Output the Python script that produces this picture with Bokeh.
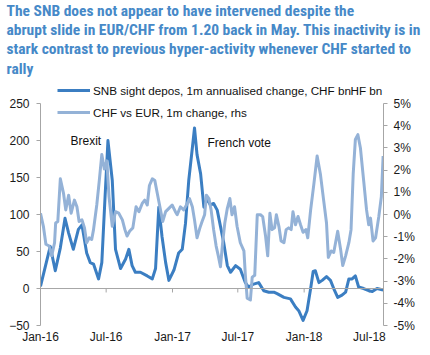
import pandas as pd
from bokeh.plotting import figure
from bokeh.models import (Range1d, LinearAxis, FixedTicker, DatetimeTickFormatter,
                          PrintfTickFormatter, Span, Label, Legend, LegendItem, Title)
from bokeh.embed import file_html
from bokeh.resources import INLINE

# ---------------- data ----------------
TITLE_LINES = [
    "The SNB does not appear to have intervened despite the",
    "abrupt slide in EUR/CHF from 1.20 back in May. This inactivity is in",
    "stark contrast to previous hyper-activity whenever CHF started to",
    "rally",
]
SERIES_SNB = "SNB sight depos, 1m annualised change, CHF bn"
SERIES_CHF = "CHF vs EUR, 1m change, rhs"
AXIS_NOTE = "HF bn"
EVENTS = ["Brexit", "French vote"]

SNB_DATES = [
    "2016-01-01", "2016-01-28", "2016-02-11", "2016-02-25", "2016-03-09", "2016-03-19",
    "2016-04-01", "2016-04-15", "2016-04-25", "2016-05-08", "2016-05-18", "2016-05-27",
    "2016-06-10", "2016-06-19", "2016-06-28", "2016-07-06", "2016-07-18", "2016-07-27",
    "2016-08-10", "2016-08-24", "2016-09-02", "2016-09-11", "2016-09-20", "2016-10-04",
    "2016-10-23", "2016-11-06", "2016-11-15", "2016-11-24", "2016-12-03", "2016-12-13",
    "2016-12-22",
    "2017-01-05", "2017-01-18", "2017-01-28", "2017-02-06", "2017-02-15", "2017-02-25",
    "2017-03-03", "2017-03-10", "2017-03-20", "2017-03-29", "2017-04-07", "2017-04-16",
    "2017-04-25", "2017-05-05", "2017-05-14", "2017-05-23", "2017-06-02", "2017-06-11",
    "2017-06-25", "2017-07-08", "2017-07-22", "2017-07-31", "2017-08-14", "2017-08-28",
    "2017-09-11", "2017-09-25", "2017-10-09", "2017-10-18", "2017-11-06", "2017-11-24",
    "2017-12-08", "2017-12-17", "2017-12-29",
    "2018-01-09", "2018-01-19", "2018-01-26", "2018-02-01", "2018-02-11", "2018-02-20",
    "2018-03-04", "2018-03-15", "2018-03-24", "2018-04-04", "2018-04-16", "2018-04-26",
    "2018-05-05", "2018-05-14", "2018-05-23", "2018-06-01", "2018-06-15", "2018-06-29",
    "2018-07-09", "2018-07-22", "2018-08-08",
]
SNB_VALUES = [
    3, 57, 24, 55, 95, 75, 53, 80, 86, 48, 35, 33, 13, 35, 124, 200, 146, 53, 27, 40,
    53, 31, 22, 22, 17, 13, 27, 110, 70, 35, 11,
    25, 48, 53, 88, 146, 190, 217, 181, 155, 110, 121, 113, 115, 106, 84, 62, 31, 22,
    31, 26, 8, 2, 6, 8, -3, -5, -5, -7, -12, -14, -25, -30, -43,
    -30, 0, 23, 24, 8, 11, 16, 11, 0, -12, -9, -5, 13, 13, 17, 2, 0, -3, -4, 0, -2,
]

CHF_DATES = [
    "2016-01-01", "2016-01-09", "2016-01-16", "2016-01-25", "2016-02-01", "2016-02-09",
    "2016-02-12", "2016-02-18", "2016-02-25", "2016-03-05", "2016-03-11", "2016-03-19",
    "2016-03-26", "2016-04-04", "2016-04-11", "2016-04-17", "2016-04-25", "2016-05-02",
    "2016-05-08", "2016-05-15", "2016-05-22", "2016-05-27", "2016-06-05", "2016-06-12",
    "2016-06-19", "2016-06-26", "2016-07-03", "2016-07-09", "2016-07-18", "2016-07-27",
    "2016-08-05", "2016-08-15", "2016-08-22", "2016-08-28", "2016-09-04", "2016-09-13",
    "2016-09-22", "2016-09-30", "2016-10-09", "2016-10-16", "2016-10-23", "2016-10-29",
    "2016-11-06", "2016-11-13", "2016-11-20", "2016-11-27", "2016-12-05", "2016-12-13",
    "2016-12-22", "2016-12-31",
    "2017-01-09", "2017-01-14", "2017-01-23", "2017-02-01", "2017-02-11", "2017-02-17",
    "2017-02-25", "2017-03-03", "2017-03-10", "2017-03-18", "2017-03-24", "2017-03-31",
    "2017-04-05", "2017-04-12", "2017-04-18", "2017-04-25", "2017-05-02", "2017-05-08",
    "2017-05-14", "2017-05-20", "2017-05-26", "2017-06-02", "2017-06-09", "2017-06-15",
    "2017-06-22", "2017-06-29", "2017-07-08", "2017-07-18", "2017-07-22", "2017-07-27",
    "2017-08-05", "2017-08-10", "2017-08-17", "2017-08-24", "2017-09-02", "2017-09-08",
    "2017-09-16", "2017-09-22", "2017-09-28", "2017-10-04", "2017-10-11", "2017-10-16",
    "2017-10-23", "2017-10-29", "2017-11-06", "2017-11-12", "2017-11-19", "2017-11-26",
    "2017-12-01", "2017-12-08", "2017-12-15", "2017-12-22", "2017-12-29",
    "2018-01-06", "2018-01-11", "2018-01-19", "2018-01-28", "2018-02-06", "2018-02-15",
    "2018-02-24", "2018-03-04", "2018-03-09", "2018-03-17", "2018-03-24", "2018-04-04",
    "2018-04-12", "2018-04-18", "2018-04-26", "2018-05-05", "2018-05-11", "2018-05-17",
    "2018-05-23", "2018-05-30", "2018-06-06", "2018-06-15", "2018-06-23", "2018-06-29",
    "2018-07-04", "2018-07-11", "2018-07-18", "2018-07-27", "2018-08-03", "2018-08-08",
]
CHF_VALUES = [
    0.06, -0.53, -1.34, -1.42, -1.86, -1.27, -0.38, -0.31, 1.61, 0.94, 0.21, 0.87,
    0.06, 0.65, 0.35, -0.31, -0.24, -0.6, -1.27, -1.05, -1.12, -0.68, 0.43, 1.53,
    2.71, 2.05, 2.42, 0.8, -0.53, 0.13, 0.06, -0.24, -0.68, -0.97, -0.75, -0.6,
    0.35, 0.13, 0.5, 0.65, 0.43, 1.31, 1.61, 1.53, 0.94, 0.35, -0.31, 0.13,
    0.28, 0.43,
    0.13, -0.01, 0.35, 0.21, 0.5, 0.72, 0.35, -0.24, -1.05, -0.6, -0.31, -0.01,
    0.87, 0.72, 0.21, -0.68, -1.42, -1.86, -2.35, -1.27, -0.38, 0.28, 0.72, -0.01,
    0.35, -0.53, -1.27, -1.64, -2.74, -3.77, -3.85, -2.82, -2.74, -0.01, -0.01, -0.09,
    -0.97, -1.86, 0.06, -0.68, -0.6, -0.01, -0.53, -1.19, -1.27, -0.68, -0.6, -0.68,
    0.13, -0.46, -0.09, -0.46, -0.8,
    -0.68, -1.05, 0.21, 1.38, 2.64, 1.83, 0.65, -0.38, -1.93, -1.64, -1.71, -0.75,
    -1.56, -2.3, -1.86, -1.27, -0.68, 1.83, 3.38, 3.6, 3.0, 1.53, 0.21, -0.46,
    -0.16, -1.19, -1.05, -0.09, 0.8, 2.64,
]

X_TICKS = ["2016-01-01", "2016-07-01", "2017-01-01", "2017-07-01", "2018-01-01", "2018-07-01"]
LEFT_TICKS = [-50, 0, 50, 100, 150, 200, 250]
RIGHT_TICKS = [-5, -4, -3, -2, -1, 0, 1, 2, 3, 4, 5]

# ---------------- styling ----------------
DARK = "#3b7ec2"
LIGHT = "#94b2d7"
TITLE_BLUE = "#4689c8"
AXIS_GREY = "#a6a6a6"
FONT = "Liberation Sans"
TITLE_FONT = "Liberation Sans Narrow, Roboto Condensed, Liberation Sans"

snb_x = pd.to_datetime(SNB_DATES)
chf_x = pd.to_datetime(CHF_DATES)
tick_x = pd.to_datetime(X_TICKS)
tick_ms = [int(t.value // 10**6) for t in tick_x]

FRAME_TOP = 76
FRAME_BOTTOM = 325
PX_PER_UNIT = (324.7 - 101.0) / 300.0
Y_LO = -50
Y_HI = Y_LO + (FRAME_BOTTOM - FRAME_TOP) / PX_PER_UNIT

p = figure(width=430, height=355, x_axis_type="datetime",
           x_range=Range1d(pd.Timestamp("2016-01-01"), pd.Timestamp("2018-08-09")),
           y_range=Range1d(Y_LO, Y_HI),
           output_backend="svg", toolbar_location=None,
           min_border_left=40, min_border_right=47, min_border_top=FRAME_TOP,
           min_border_bottom=355 - FRAME_BOTTOM)
p.title.visible = False
p.xgrid.visible = False
p.ygrid.visible = False
p.outline_line_color = None
p.background_fill_color = "white"

# title lines (closest line added first)
for i, line in enumerate(reversed(TITLE_LINES)):
    p.add_layout(Title(text=line, align="left", offset=-34,
                       standoff=1.0 if i == 0 else -1.1,
                       text_font=TITLE_FONT, text_font_size="15.5px",
                       text_font_style="bold", text_color=TITLE_BLUE), "above")

# secondary range: -5% <-> -50, 5% <-> 250
p.extra_y_ranges = {"rhs": Range1d((Y_LO - 100) / 30.0, (Y_HI - 100) / 30.0)}

# left axis
ya = p.yaxis[0]
ya.bounds = (LEFT_TICKS[0], LEFT_TICKS[-1])
ya.ticker = FixedTicker(ticks=LEFT_TICKS)
ya.axis_line_color = AXIS_GREY
ya.major_tick_line_color = AXIS_GREY
ya.major_tick_in = 0
ya.major_tick_out = 4
ya.minor_tick_line_color = None
ya.major_label_standoff = 7
ya.major_label_text_font = FONT
ya.major_label_text_font_size = "12px"
ya.major_label_text_color = "#1a1a1a"

# right axis
ra = LinearAxis(y_range_name="rhs", bounds=(RIGHT_TICKS[0], RIGHT_TICKS[-1]),
                ticker=FixedTicker(ticks=RIGHT_TICKS),
                formatter=PrintfTickFormatter(format="%d%%"))
ra.axis_line_color = AXIS_GREY
ra.major_tick_line_color = AXIS_GREY
ra.major_tick_in = 0
ra.major_tick_out = 4
ra.minor_tick_line_color = None
ra.major_label_standoff = 6
ra.major_label_text_font = FONT
ra.major_label_text_font_size = "12px"
ra.major_label_text_color = "#1a1a1a"
p.add_layout(ra, "right")

# bottom axis (labels only; line drawn at zero)
xa = p.xaxis[0]
xa.ticker = FixedTicker(ticks=tick_ms)
xa.formatter = DatetimeTickFormatter(days="%b-%y", months="%b-%y", years="%b-%y")
xa.axis_line_color = None
xa.major_tick_line_color = None
xa.major_tick_in = 0
xa.major_tick_out = 0
xa.minor_tick_line_color = None
xa.major_label_standoff = 4
xa.major_label_text_font = FONT
xa.major_label_text_font_size = "12px"
xa.major_label_text_color = "#1a1a1a"

p.add_layout(Span(location=0, dimension="width", line_color=AXIS_GREY, line_width=1))
p.segment(x0=tick_x, y0=0, x1=tick_x, y1=-4 / PX_PER_UNIT, line_color=AXIS_GREY,
          line_width=1)

r_snb = p.line(snb_x, SNB_VALUES, line_color=DARK, line_width=3, line_join="round")
r_chf = p.line(chf_x, CHF_VALUES, y_range_name="rhs", line_color=LIGHT, line_width=3,
               line_join="round")

legend = Legend(items=[LegendItem(label=SERIES_SNB, renderers=[r_snb]),
                       LegendItem(label=SERIES_CHF, renderers=[r_chf])],
                location=(17, FRAME_BOTTOM - 122), padding=0, margin=0, spacing=2,
                glyph_width=33, glyph_height=20, label_height=20, label_standoff=3,
                border_line_color=None, background_fill_alpha=0,
                label_text_font=FONT, label_text_font_size="11.7px",
                label_text_color="#111111")
p.add_layout(legend)

p.add_layout(Label(x=310, y=FRAME_BOTTOM - 90, x_units="screen", y_units="screen",
                   text=AXIS_NOTE, text_font=FONT, text_font_size="11.7px",
                   text_color="#111111", text_baseline="middle"))

# event annotations
for txt, (cx, cy) in zip(EVENTS, [(70, 140), (207, 142.5)]):
    p.add_layout(Label(x=cx - 40, y=FRAME_BOTTOM - cy, x_units="screen", y_units="screen",
                       text=txt, text_font=FONT, text_font_size="12px",
                       text_color="#111111", text_baseline="middle"))

open("out.html", "w").write(file_html(p, INLINE))
